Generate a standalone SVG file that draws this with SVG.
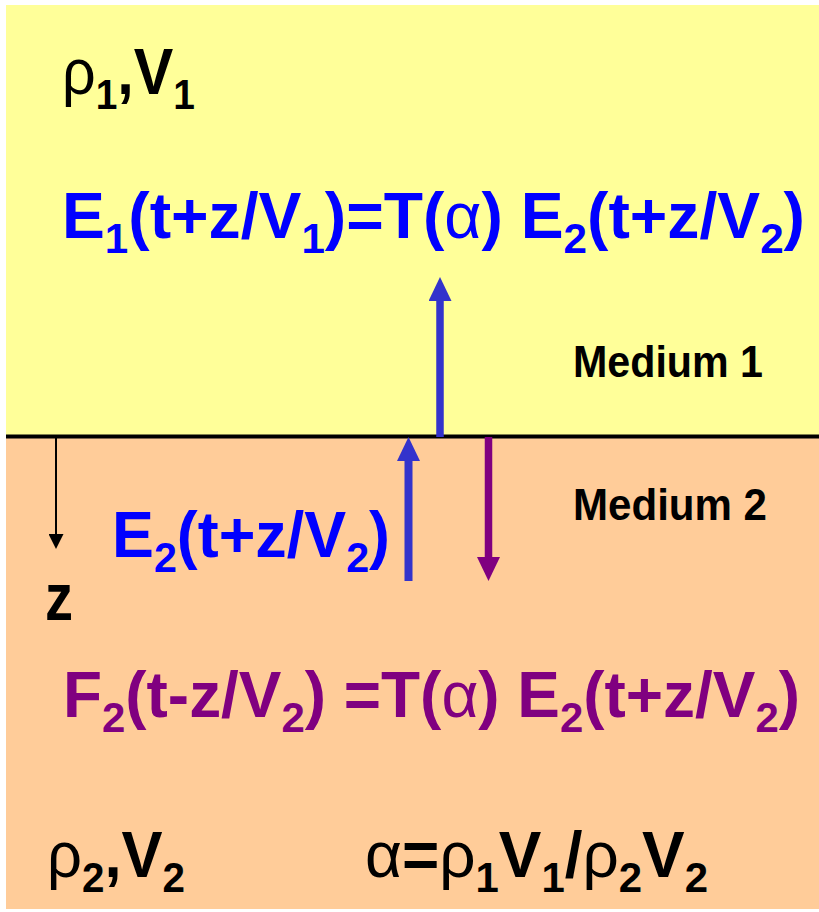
<svg xmlns="http://www.w3.org/2000/svg" width="819" height="912" viewBox="0 0 819 912">
<style>
.t{font-family:"Liberation Sans",Arial,sans-serif;font-weight:bold;}
.blk{fill:#000000;}
.blu{fill:#0000FF;}
.pur{fill:#800080;}
.g{font-weight:normal;}
.s{font-size:42px;}
</style>
<defs>
<marker id="hb" markerUnits="userSpaceOnUse" viewBox="0 0 24 23" markerWidth="24" markerHeight="23" refX="0" refY="11.5" orient="auto"><path d="M0,0 L24,11.5 L0,23 z" fill="#3333CC"/></marker>
<marker id="hp" markerUnits="userSpaceOnUse" viewBox="0 0 24 23" markerWidth="24" markerHeight="23" refX="0" refY="11.5" orient="auto"><path d="M0,0 L24,11.5 L0,23 z" fill="#800080"/></marker>
<marker id="hk" markerUnits="userSpaceOnUse" viewBox="0 0 15 15" markerWidth="15" markerHeight="15" refX="0" refY="7.5" orient="auto"><path d="M0,0 L15,7.5 L0,15 z" fill="#000000"/></marker>
</defs>
<rect x="0" y="0" width="819" height="912" fill="#FFFFFF"/>
<g id="medium1-area"><rect x="6" y="5" width="813" height="432" fill="#FFFF99"/></g>
<g id="medium2-area"><rect x="6" y="437" width="813" height="472" fill="#FFCC99"/></g>
<g id="interface"><line x1="6" y1="436.5" x2="819" y2="436.5" stroke="#000000" stroke-width="4"/></g>

<g id="connectors">
<line x1="440" y1="437" x2="440" y2="301" stroke="#3333CC" stroke-width="7.5" marker-end="url(#hb)"/>
<line x1="408.5" y1="581" x2="408.5" y2="461" stroke="#3333CC" stroke-width="8" marker-end="url(#hb)"/>
<line x1="488.5" y1="437" x2="488.5" y2="557" stroke="#800080" stroke-width="7.5" marker-end="url(#hp)"/>
<line x1="56" y1="438" x2="56" y2="534" stroke="#000000" stroke-width="2" marker-end="url(#hk)"/>
</g>

<g id="label-rho1v1"><text class="t blk" x="62" y="94" font-size="64" textLength="133" lengthAdjust="spacingAndGlyphs"><tspan class="g">ρ</tspan><tspan class="s" dy="15">1</tspan><tspan dy="-15">,V</tspan><tspan class="s" dy="15">1</tspan></text></g>

<g id="eq-transmit"><text class="t blu" x="62" y="238" font-size="64" textLength="743" lengthAdjust="spacingAndGlyphs">E<tspan class="s" dy="15">1</tspan><tspan dy="-15">(t+z/V</tspan><tspan class="s" dy="15">1</tspan><tspan dy="-15">)=T(</tspan><tspan class="g">α</tspan>) E<tspan class="s" dy="15">2</tspan><tspan dy="-15">(t+z/V</tspan><tspan class="s" dy="15">2</tspan><tspan dy="-15">)</tspan></text></g>

<g id="label-medium1"><text class="t blk" x="573" y="377" font-size="44" textLength="190" lengthAdjust="spacingAndGlyphs">Medium 1</text></g>
<g id="label-medium2"><text class="t blk" x="573" y="520" font-size="44" textLength="194" lengthAdjust="spacingAndGlyphs">Medium 2</text></g>

<g id="label-incident"><text class="t blu" x="112" y="557" font-size="64" textLength="278" lengthAdjust="spacingAndGlyphs">E<tspan class="s" dy="15">2</tspan><tspan dy="-15">(t+z/V</tspan><tspan class="s" dy="15">2</tspan><tspan dy="-15">)</tspan></text></g>

<g id="label-z"><text class="t blk" x="45" y="620" font-size="66" textLength="28" lengthAdjust="spacingAndGlyphs">z</text></g>

<g id="eq-reflect"><text class="t pur" x="63" y="717" font-size="64" textLength="737" lengthAdjust="spacingAndGlyphs">F<tspan class="s" dy="15">2</tspan><tspan dy="-15">(t-z/V</tspan><tspan class="s" dy="15">2</tspan><tspan dy="-15">) =T(</tspan><tspan class="g">α</tspan>) E<tspan class="s" dy="15">2</tspan><tspan dy="-15">(t+z/V</tspan><tspan class="s" dy="15">2</tspan><tspan dy="-15">)</tspan></text></g>

<g id="label-rho2v2"><text class="t blk" x="47" y="877" font-size="64" textLength="138" lengthAdjust="spacingAndGlyphs"><tspan class="g">ρ</tspan><tspan class="s" dy="15">2</tspan><tspan dy="-15">,V</tspan><tspan class="s" dy="15">2</tspan></text></g>

<g id="label-alpha"><text class="t blk" x="365" y="877" font-size="64" textLength="343" lengthAdjust="spacingAndGlyphs"><tspan class="g">α</tspan>=<tspan class="g">ρ</tspan><tspan class="s" dy="15">1</tspan><tspan dy="-15">V</tspan><tspan class="s" dy="15">1</tspan><tspan dy="-15">/</tspan><tspan class="g">ρ</tspan><tspan class="s" dy="15">2</tspan><tspan dy="-15">V</tspan><tspan class="s" dy="15">2</tspan></text></g>
</svg>
